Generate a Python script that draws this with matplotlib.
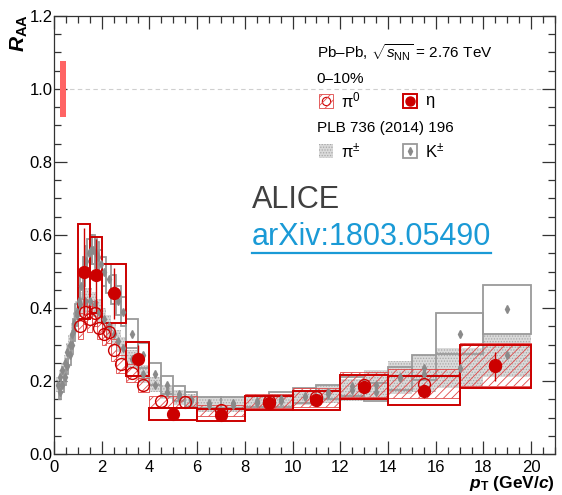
import numpy as np
import matplotlib
matplotlib.use("Agg")
import matplotlib.pyplot as plt
from matplotlib.patches import Rectangle
from matplotlib.lines import Line2D
from matplotlib.ticker import MultipleLocator

plt.rcParams['font.family'] = ['Liberation Sans', 'DejaVu Sans']
plt.rcParams['mathtext.fontset'] = 'custom'
plt.rcParams['mathtext.rm'] = 'Liberation Sans'
plt.rcParams['mathtext.it'] = 'Liberation Sans:italic'
plt.rcParams['mathtext.bf'] = 'Liberation Sans:bold'
plt.rcParams['mathtext.bfit'] = 'Liberation Sans:bold:italic'
plt.rcParams['hatch.linewidth'] = 0.6

# eta (this work)
eta_edges = np.array([1.0, 1.5, 2.0, 3.0, 4.0, 6.0, 8.0, 10, 12, 14, 17, 20])
eta_val = np.array([0.50, 0.49, 0.44, 0.26, 0.11, 0.106, 0.14, 0.147, 0.184, 0.173, 0.24])
eta_stat = np.array([0.12, 0.10, 0.07, 0.04, 0.012, 0.01, 0.01, 0.012, 0.015, 0.02, 0.04])
eta_sys = np.array([0.13, 0.104, 0.08, 0.046, 0.016, 0.016, 0.019, 0.026, 0.033, 0.04, 0.06])

# pi0 (this work)
pi0_edges = np.array([1.0, 1.2, 1.4, 1.6, 1.8, 2.0, 2.2, 2.4, 2.6, 3.0, 3.5, 4.0, 5.0, 6.0, 8.0, 10, 12, 14, 17, 20])
pi0_val = np.array([0.35, 0.39, 0.37, 0.385, 0.345, 0.33, 0.333, 0.285, 0.247, 0.221, 0.189,
                    0.145, 0.143, 0.12, 0.145, 0.155, 0.19, 0.193, 0.245])
pi0_sys = np.array([0.035, 0.035, 0.035, 0.035, 0.03, 0.03, 0.03, 0.03, 0.025, 0.025, 0.02,
                    0.015, 0.015, 0.015, 0.02, 0.025, 0.035, 0.04, 0.06])

# charged pions, PLB 736 (2014) 196
pion_edges = np.array([0.1, 0.2, 0.3, 0.4, 0.5, 0.6, 0.7, 0.8, 0.9, 1.0,
                       1.2, 1.4, 1.6, 1.8, 2.0, 2.2, 2.4, 2.6, 2.8, 3.0,
                       3.5, 4.0, 4.5, 5.0, 5.5, 6, 7, 8, 9, 10,
                       11, 12, 13, 14, 15, 16, 18, 20])
pion_val = np.array([0.19, 0.21, 0.23, 0.25, 0.28, 0.30, 0.33, 0.36, 0.39,
                     0.41, 0.42, 0.42, 0.41, 0.39,
                     0.37, 0.35, 0.33, 0.31, 0.29,
                     0.26, 0.22, 0.19, 0.17, 0.155,
                     0.145, 0.135, 0.135, 0.14, 0.145,
                     0.155, 0.165, 0.175, 0.19, 0.21,
                     0.22, 0.235, 0.27])
pion_sys = np.array([0.02, 0.02, 0.02, 0.02, 0.025, 0.025, 0.03, 0.03, 0.03,
                     0.035, 0.035, 0.035, 0.035, 0.035,
                     0.03, 0.03, 0.03, 0.03, 0.03,
                     0.025, 0.025, 0.02, 0.02, 0.02,
                     0.02, 0.02, 0.02, 0.02, 0.02,
                     0.02, 0.025, 0.03, 0.04, 0.045,
                     0.05, 0.055, 0.06])

# charged kaons, PLB 736 (2014) 196
kaon_edges = np.array([0.2, 0.3, 0.4, 0.5, 0.6, 0.7, 0.8, 0.9, 1.0,
                       1.1, 1.2, 1.3, 1.4, 1.5, 1.6, 1.7, 1.8, 1.9, 2.0,
                       2.2, 2.4, 2.6, 2.8, 3.0, 3.5, 4.0, 4.5, 5.0, 5.5,
                       6, 7, 8, 9, 10, 11, 12, 13, 14, 15, 16, 18, 20])
kaon_val = np.array([0.17, 0.19, 0.21, 0.24, 0.27, 0.30, 0.34, 0.38,
                     0.42, 0.46, 0.50, 0.53, 0.55,
                     0.56, 0.56, 0.55, 0.54, 0.52,
                     0.50, 0.48, 0.45, 0.42, 0.39,
                     0.33, 0.27, 0.22, 0.19, 0.165,
                     0.15, 0.14, 0.14, 0.145, 0.15,
                     0.16, 0.17, 0.185, 0.17, 0.207,
                     0.237, 0.33, 0.397])
kaon_sys = np.array([0.02, 0.02, 0.02, 0.02, 0.025, 0.025, 0.03, 0.03,
                     0.035, 0.035, 0.04, 0.04, 0.04,
                     0.04, 0.04, 0.04, 0.04, 0.04,
                     0.04, 0.04, 0.04, 0.04, 0.04,
                     0.04, 0.035, 0.03, 0.025, 0.02,
                     0.02, 0.015, 0.015, 0.015, 0.02,
                     0.02, 0.02, 0.025, 0.025, 0.032,
                     0.035, 0.055, 0.067])

norm_unc = 0.077

red = '#cc0000'
lightred = '#e04848'
gray = '#9a9a9a'


def centers(e):
    return 0.5 * (e[:-1] + e[1:])


fig = plt.figure(figsize=(5.62, 4.95), dpi=100)
ax = fig.add_axes([0.0961, 0.0828, 0.8915, 0.8849])

ax.axhline(1.0, color='#cfcfcf', lw=0.8, ls=(0, (4, 3)), zorder=0)
ax.bar(0.25, 2 * norm_unc, width=0.25, bottom=1 - norm_unc, align='edge',
       color='#ff6464', lw=0, zorder=2)

# charged pions: stippled boxes
ax.bar(pion_edges[:-1], 2 * pion_sys, width=np.diff(pion_edges), bottom=pion_val - pion_sys,
       align='edge', facecolor='#dadada', edgecolor='#a8a8a8', hatch='......', lw=0, zorder=1)
# charged kaons: open boxes
ax.bar(kaon_edges[:-1], 2 * kaon_sys, width=np.diff(kaon_edges), bottom=kaon_val - kaon_sys,
       align='edge', fill=False, edgecolor=gray, lw=1.3, zorder=2)
# pi0: hatched boxes
ax.bar(pi0_edges[:-1], 2 * pi0_sys, width=np.diff(pi0_edges), bottom=pi0_val - pi0_sys,
       align='edge', fill=False, edgecolor=lightred, hatch='////', lw=0.6, zorder=3)
# eta: open red boxes
ax.bar(eta_edges[:-1], 2 * eta_sys, width=np.diff(eta_edges), bottom=eta_val - eta_sys,
       align='edge', fill=False, edgecolor=red, lw=1.4, zorder=4)

ax.plot(centers(pion_edges), pion_val, 'd', color='#8a8a8a', ms=4, zorder=5)
ax.plot(centers(kaon_edges), kaon_val, 'd', color='#8a8a8a', ms=4, zorder=5)
ax.plot(centers(pi0_edges), pi0_val, 'o', mfc='none', mec=red, mew=1.0, ms=8.5, zorder=6)
ax.errorbar(centers(eta_edges), eta_val, yerr=eta_stat, fmt='o', color=red, ms=8.5,
            elinewidth=1.0, capsize=0, zorder=7)

ax.set_xlim(0, 21)
ax.set_ylim(0, 1.2)
ax.xaxis.set_major_locator(MultipleLocator(2))
ax.xaxis.set_minor_locator(MultipleLocator(0.5))
ax.yaxis.set_major_locator(MultipleLocator(0.2))
ax.yaxis.set_minor_locator(MultipleLocator(0.05))
ax.yaxis.set_major_formatter(matplotlib.ticker.FormatStrFormatter('%.1f'))
ax.tick_params(which='both', direction='in', top=True, right=True, labelsize=12, width=0.9,
               color='#333333')
ax.tick_params(axis='y', pad=1)
ax.tick_params(axis='x', pad=4)
ax.tick_params(which='major', length=9.5)
ax.tick_params(which='minor', length=5)
for s in ax.spines.values():
    s.set_linewidth(0.9)
    s.set_color('#333333')

ax.set_xlabel(r'$\mathbfit{p}_{\mathbf{T}}$ (GeV/$\mathbfit{c}$)', fontsize=12.5,
              fontweight='bold', loc='right')
ax.xaxis.set_label_coords(1.0, -0.045)
ax.set_ylabel(r'$\mathbfit{R}_{\mathbf{AA}}$', fontsize=15, loc='top')
ax.yaxis.set_label_coords(-0.048, 1.005)

# legend block
tx = 0.524
ax.text(tx, 0.903, r'Pb–Pb, $\sqrt{s_{\mathrm{NN}}}$ = 2.76 TeV', transform=ax.transAxes,
        fontsize=11, va='baseline')
ax.text(tx, 0.848, '0–10%', transform=ax.transAxes, fontsize=11, va='baseline')
ax.text(tx, 0.736, 'PLB 736 (2014) 196', transform=ax.transAxes, fontsize=11, va='baseline')

sw, sh = 0.028, 0.032
rows = [(0.807, 0.5296, 0.572, 'π$^{0}$', dict(fill=False, edgecolor=lightred, hatch='////', lw=0.6)),
        (0.807, 0.697, 0.74, 'η', dict(fill=False, edgecolor=red, lw=1.4)),
        (0.692, 0.5296, 0.572, 'π$^{\\pm}$', dict(facecolor='#dadada', edgecolor='#a8a8a8', hatch='......', lw=0)),
        (0.692, 0.697, 0.74, 'K$^{\\pm}$', dict(fill=False, edgecolor=gray, lw=1.3))]
for yc, xs, xt, lab, kw in rows:
    ax.add_patch(Rectangle((xs, yc - sh / 2), sw, sh, transform=ax.transAxes, zorder=3, **kw))
    ax.text(xt, yc, lab, transform=ax.transAxes, fontsize=12, va='center')
ax.plot([0.5296 + sw / 2], [0.807], 'o', mfc='none', mec=red, ms=6, mew=0.8, transform=ax.transAxes)
ax.plot([0.697 + sw / 2], [0.807], 'o', color=red, ms=6.5, transform=ax.transAxes)
ax.plot([0.5296 + sw / 2], [0.692], 'd', color='#8a8a8a', ms=4, transform=ax.transAxes)
ax.plot([0.697 + sw / 2], [0.692], 'd', color='#8a8a8a', ms=4, transform=ax.transAxes)

ax.text(8.29, 0.673, 'ALICE', fontsize=22, color='#404040', va='baseline')
arx = ax.text(8.29, 0.573, 'arXiv:1803.05490', fontsize=22, color='#1a9ad6', va='baseline')
fig.canvas.draw()
bb = arx.get_window_extent()
fig.add_artist(Line2D([bb.x0, bb.x1], [bb.y0 - 1, bb.y0 - 1], transform=None,
                      color='#1a9ad6', lw=1.6))

fig.savefig('out.png', dpi=100)
